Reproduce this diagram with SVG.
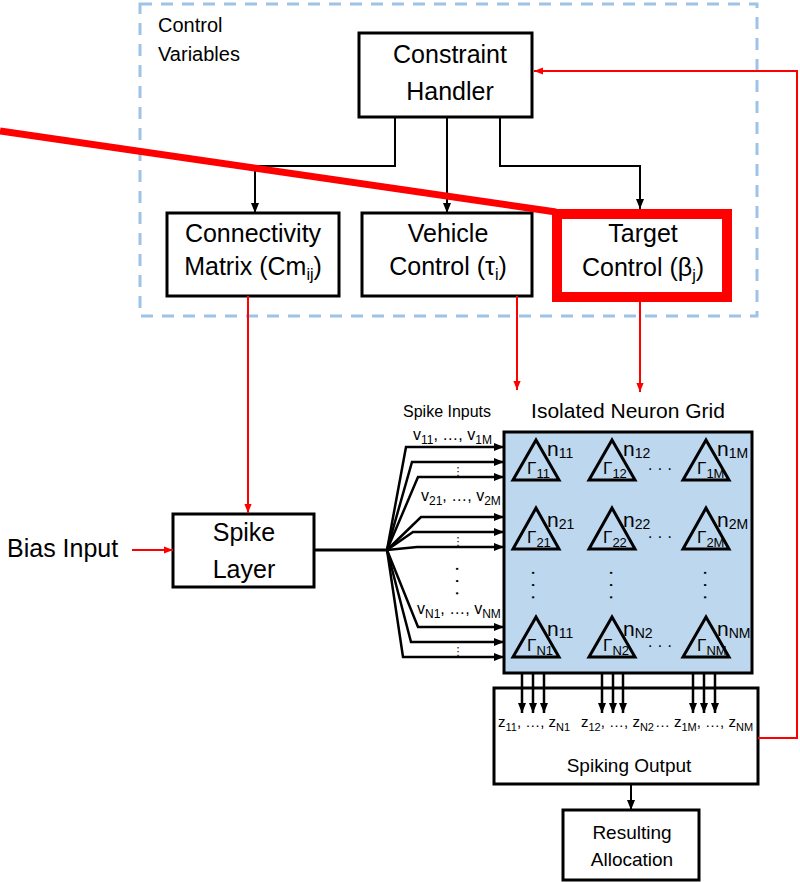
<svg xmlns="http://www.w3.org/2000/svg" width="800" height="882" viewBox="0 0 800 882">
  <style>
    text { font-family: "Liberation Sans", Arial, sans-serif; fill: #000; }
    .box { fill: #fff; stroke: #000; stroke-width: 3; }
    .lbl { font-size: 25px; text-anchor: middle; }
    .sub { font-size: 16px; }
    .blk { fill: none; stroke: #000; stroke-width: 2; }
    .red { fill: none; stroke: #f00; stroke-width: 2; }
    .fan { fill: none; stroke: #000; stroke-width: 2.5; }
    .tri { fill: none; stroke: #000; stroke-width: 3; }
    .nl { font-size: 21px; }
    .ns { font-size: 14px; }
    .gl { font-size: 17px; }
    .gs { font-size: 13px; }
    .vl { font-size: 16px; }
    .vs { font-size: 12px; }
    .zl { font-size: 15px; }
    .zs { font-size: 11px; }
    .vd { font-family: "DejaVu Sans", sans-serif; font-size: 11px; text-anchor: middle; }
    .rd { font-size: 20px; text-anchor: middle; }
  </style>
  <defs>
    <marker id="ab" markerUnits="userSpaceOnUse" markerWidth="10" markerHeight="10" viewBox="0 0 10 10" refX="10" refY="5" orient="auto">
      <path d="M0 1 L10 5 L0 9 Z" fill="#000"/>
    </marker>
    <marker id="ar" markerUnits="userSpaceOnUse" markerWidth="9" markerHeight="9" viewBox="0 0 10 10" refX="10" refY="5" orient="auto">
      <path d="M0 1 L10 5 L0 9 Z" fill="#f00"/>
    </marker>
  </defs>

  <!-- control variables frame -->
  <g id="control-variables">
    <rect x="140" y="4" width="617" height="312" fill="none" stroke="#9DC3E6" stroke-width="3" stroke-dasharray="12 9"/>
    <text x="158" y="32" font-size="20">Control</text>
    <text x="158" y="61" font-size="20">Variables</text>
  </g>

  <g id="constraint-handler">
    <rect class="box" x="359" y="33" width="173" height="84"/>
    <text class="lbl" x="450" y="63">Constraint</text>
    <text class="lbl" x="450" y="100">Handler</text>
  </g>

  <g id="connectivity-matrix">
    <rect class="box" x="167" y="213" width="172" height="83"/>
    <text class="lbl" x="253" y="242">Connectivity</text>
    <text class="lbl" x="253" y="275">Matrix (Cm<tspan class="sub" dy="5">ij</tspan><tspan dy="-5">)</tspan></text>
  </g>

  <g id="vehicle-control">
    <rect class="box" x="362" y="213" width="170" height="83"/>
    <text class="lbl" x="448" y="242">Vehicle</text>
    <text class="lbl" x="448" y="275">Control (τ<tspan class="sub" dy="5">i</tspan><tspan dy="-5">)</tspan></text>
  </g>

  <g id="target-control">
    <rect x="557" y="214" width="170" height="83" fill="#fff" stroke="#f00" stroke-width="10"/>
    <text class="lbl" x="643" y="242">Target</text>
    <text class="lbl" x="643" y="276">Control (β<tspan class="sub" dy="5">j</tspan><tspan dy="-5">)</tspan></text>
  </g>

  <g id="bias-input">
    <text x="7" y="557" font-size="25">Bias Input</text>
  </g>

  <g id="spike-layer">
    <rect class="box" x="173" y="514" width="141" height="73"/>
    <text class="lbl" x="244" y="541">Spike</text>
    <text class="lbl" x="244" y="578">Layer</text>
  </g>

  <g id="spike-inputs">
    <text x="403" y="417" font-size="16">Spike Inputs</text>
    <text class="vl" x="413" y="440">v<tspan class="vs" dy="4">11</tspan><tspan dy="-4">, …, v</tspan><tspan class="vs" dy="4">1M</tspan></text>
    <text class="vd" x="458" y="475">⋮</text>
    <text class="vl" x="421" y="501">v<tspan class="vs" dy="4">21</tspan><tspan dy="-4">, …, v</tspan><tspan class="vs" dy="4">2M</tspan></text>
    <text class="vd" x="458" y="545">⋮</text>
    <text class="rd" transform="translate(452 581) rotate(90)">· · ·</text>
    <text class="vl" x="417" y="614">v<tspan class="vs" dy="4">N1</tspan><tspan dy="-4">, …, v</tspan><tspan class="vs" dy="4">NM</tspan></text>
    <text class="vd" x="458" y="655">⋮</text>
  </g>

  <g id="neuron-grid">
    <text x="628" y="418" font-size="21" text-anchor="middle">Isolated Neuron Grid</text>
    <rect x="504" y="432" width="248" height="241" fill="#BDD7EE" stroke="#000" stroke-width="3"/>
    <!-- row 1 -->
    <polygon class="tri" points="536,440 513,480 559,480"/>
    <polygon class="tri" points="612,440 589,480 635,480"/>
    <polygon class="tri" points="706,440 683,480 729,480"/>
    <text class="nl" x="547" y="456">n<tspan class="ns" dy="2">11</tspan></text>
    <text class="nl" x="623" y="456">n<tspan class="ns" dy="2">12</tspan></text>
    <text class="nl" x="717" y="456">n<tspan class="ns" dy="2">1M</tspan></text>
    <text class="gl" x="527" y="474">Γ<tspan class="gs" dy="4">11</tspan></text>
    <text class="gl" x="603" y="474">Γ<tspan class="gs" dy="4">12</tspan></text>
    <text class="gl" x="697" y="474">Γ<tspan class="gs" dy="4">1M</tspan></text>
    <text x="660" y="474" font-size="16" text-anchor="middle">· · ·</text>
    <!-- row 2 -->
    <polygon class="tri" points="536,508 513,549 559,549"/>
    <polygon class="tri" points="612,508 589,549 635,549"/>
    <polygon class="tri" points="706,508 683,549 729,549"/>
    <text class="nl" x="547" y="527">n<tspan class="ns" dy="2">21</tspan></text>
    <text class="nl" x="623" y="527">n<tspan class="ns" dy="2">22</tspan></text>
    <text class="nl" x="717" y="527">n<tspan class="ns" dy="2">2M</tspan></text>
    <text class="gl" x="527" y="543">Γ<tspan class="gs" dy="4">21</tspan></text>
    <text class="gl" x="603" y="543">Γ<tspan class="gs" dy="4">22</tspan></text>
    <text class="gl" x="697" y="543">Γ<tspan class="gs" dy="4">2M</tspan></text>
    <text x="660" y="542" font-size="16" text-anchor="middle">· · ·</text>
    <!-- vertical continuation -->
    <text class="rd" transform="translate(528 585) rotate(90)">· · ·</text>
    <text class="rd" transform="translate(606 585) rotate(90)">· · ·</text>
    <text class="rd" transform="translate(700 585) rotate(90)">· · ·</text>
    <!-- row N -->
    <polygon class="tri" points="536,617 513,657 559,657"/>
    <polygon class="tri" points="612,617 589,657 635,657"/>
    <polygon class="tri" points="706,617 683,657 729,657"/>
    <text class="nl" x="547" y="636">n<tspan class="ns" dy="2">11</tspan></text>
    <text class="nl" x="623" y="636">n<tspan class="ns" dy="2">N2</tspan></text>
    <text class="nl" x="717" y="636">n<tspan class="ns" dy="2">NM</tspan></text>
    <text class="gl" x="527" y="651">Γ<tspan class="gs" dy="4">N1</tspan></text>
    <text class="gl" x="603" y="651">Γ<tspan class="gs" dy="4">N2</tspan></text>
    <text class="gl" x="697" y="651">Γ<tspan class="gs" dy="4">NM</tspan></text>
    <text x="660" y="651" font-size="16" text-anchor="middle">· · ·</text>
  </g>

  <g id="spiking-output">
    <rect class="box" x="494" y="688" width="264" height="96"/>
    <text class="zl" x="498" y="727">z<tspan class="zs" dy="4">11</tspan><tspan dy="-4">, …, z</tspan><tspan class="zs" dy="4">N1</tspan></text>
    <text class="zl" x="581" y="727">z<tspan class="zs" dy="4">12</tspan><tspan dy="-4">, …, z</tspan><tspan class="zs" dy="4">N2</tspan></text>
    <text class="zl" x="655" y="727">…</text>
    <text class="zl" x="674" y="727">z<tspan class="zs" dy="4">1M</tspan><tspan dy="-4">, …, z</tspan><tspan class="zs" dy="4">NM</tspan></text>
    <text x="629" y="772" font-size="19" text-anchor="middle">Spiking Output</text>
  </g>

  <g id="resulting-allocation">
    <rect class="box" x="563" y="810" width="136" height="70"/>
    <text x="632" y="839" font-size="19" text-anchor="middle">Resulting</text>
    <text x="632" y="866" font-size="19" text-anchor="middle">Allocation</text>
  </g>

  <g id="connectors">
    <!-- constraint handler to the three controls -->
    <path class="blk" d="M395 117 V166 H255 V213" marker-end="url(#ab)"/>
    <path class="blk" d="M447 117 V213" marker-end="url(#ab)"/>
    <path class="blk" d="M500 117 V166 H640 V209" marker-end="url(#ab)"/>
    <!-- control outputs -->
    <path class="red" d="M248 296 V513" marker-end="url(#ar)"/>
    <path class="red" d="M517 296 V390" marker-end="url(#ar)"/>
    <path class="red" d="M640 302 V392" marker-end="url(#ar)"/>
    <path class="red" d="M132 550 H173" marker-end="url(#ar)"/>
    <!-- feedback to constraint handler -->
    <path class="red" d="M758 738 H797 V71 H534" marker-end="url(#ar)"/>
    <!-- spike layer fan-out -->
    <path d="M314 550 H388" fill="none" stroke="#000" stroke-width="3"/>
    <path class="fan" d="M387 550 L406 447 H504" marker-end="url(#ab)"/>
    <path class="fan" d="M387 550 L412 462 H504" marker-end="url(#ab)"/>
    <path class="fan" d="M387 550 L418 477 H504" marker-end="url(#ab)"/>
    <path class="fan" d="M387 550 L421 517 H504" marker-end="url(#ab)"/>
    <path class="fan" d="M387 550 L413 532 H504" marker-end="url(#ab)"/>
    <path class="fan" d="M387 550 L417 547 H504" marker-end="url(#ab)"/>
    <path class="fan" d="M387 550 L418 627 H504" marker-end="url(#ab)"/>
    <path class="fan" d="M387 550 L411 642 H504" marker-end="url(#ab)"/>
    <path class="fan" d="M387 550 L403 657 H504" marker-end="url(#ab)"/>
    <!-- grid outputs -->
    <path class="fan" d="M522 673 V713" marker-end="url(#ab)"/>
    <path class="fan" d="M533 673 V713" marker-end="url(#ab)"/>
    <path class="fan" d="M544 673 V713" marker-end="url(#ab)"/>
    <path class="fan" d="M602 673 V713" marker-end="url(#ab)"/>
    <path class="fan" d="M613 673 V713" marker-end="url(#ab)"/>
    <path class="fan" d="M623 673 V713" marker-end="url(#ab)"/>
    <path class="fan" d="M693 673 V713" marker-end="url(#ab)"/>
    <path class="fan" d="M704 673 V713" marker-end="url(#ab)"/>
    <path class="fan" d="M715 673 V713" marker-end="url(#ab)"/>
    <path class="blk" d="M631 784 V810" marker-end="url(#ab)"/>
  </g>

  <!-- highlight stroke leading to the target control block -->
  <g id="highlight">
    <path d="M0 131 L556 212" fill="none" stroke="#f00" stroke-width="7"/>
  </g>
</svg>
